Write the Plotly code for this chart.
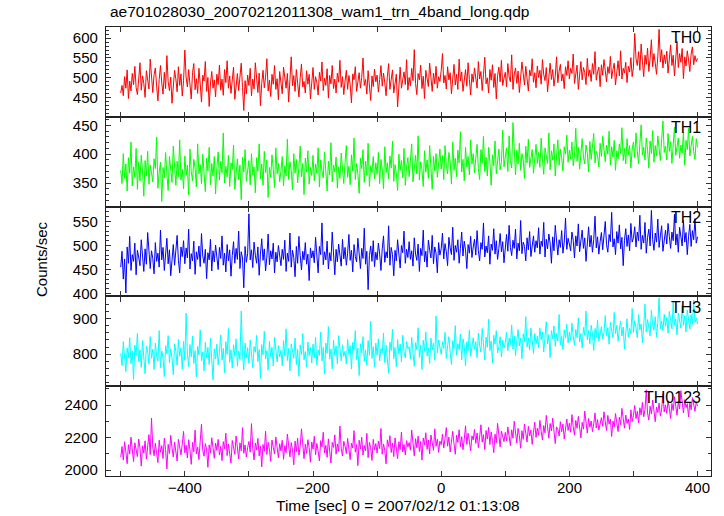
import plotly.graph_objects as go
from plotly.subplots import make_subplots

title = "ae701028030_20070212011308_wam1_trn_4band_long.qdp"
x_title = "Time [sec] 0 = 2007/02/12 01:13:08"
y_title = "Counts/sec"
bands = ["TH0", "TH1", "TH2", "TH3", "TH0123"]
colors = ["#ff0000", "#00ff00", "#0000ff", "#00ffff", "#ff00ff"]

t_start = -500
t_bin = 2

th0 = [462, 481, 455, 503, 474, 520, 448, 492, 467, 511, 483, 529, 476, 458, 497, 538, 469, 505, 486, 451, 518, 494, 472, 547, 489,
       463, 508, 525, 479, 442, 496, 531, 487, 459, 514, 473, 556, 490, 468, 502, 436, 483, 519, 497, 465, 528, 481, 510, 454, 493,
       570, 502, 477, 521, 489, 447, 513, 536, 470, 498, 461, 524, 485, 439, 507, 492, 541, 466, 501, 428, 487, 516, 474, 495, 452,
       509, 483, 532, 469, 497, 456, 521, 488, 543, 474, 505, 461, 490, 527, 446, 482, 511, 468, 499, 537, 476, 418, 493, 460, 507,
       481, 524, 455, 497, 472, 538, 489, 463, 512, 430, 486, 519, 475, 502, 548, 467, 494, 453, 509, 484, 531, 471, 498, 445, 516,
       488, 460, 527, 493, 474, 511, 439, 496, 553, 480, 506, 466, 521, 487, 452, 500, 535, 477, 491, 462, 518, 484, 509, 447, 495,
       526, 471, 503, 488, 457, 514, 492, 540, 468, 499, 481, 523, 449, 506, 485, 531, 473, 497, 462, 512, 489, 544, 476, 503, 458,
       492, 519, 471, 506, 483, 437, 510, 495, 528, 466, 489, 513, 474, 501, 550, 481, 496, 459, 518, 487, 443, 505, 478, 522, 490,
       507, 464, 496, 531, 479, 512, 488, 455, 503, 536, 471, 494, 520, 462, 486, 509, 427, 491, 527, 474, 498, 515, 483, 546, 469,
       501, 480, 524, 493, 571, 486, 458, 511, 495, 532, 473, 504, 448, 519, 490, 478, 537, 497, 466, 512, 485, 529, 474, 503, 491,
       518, 561, 487, 506, 472, 528, 495, 513, 460, 498, 534, 482, 509, 471, 547, 492, 515, 466, 503, 521, 479, 538, 496, 457, 510,
       489, 525, 503, 474, 541, 497, 516, 468, 508, 552, 485, 500, 462, 521, 494, 533, 476, 511, 447, 506, 527, 490, 544, 481, 499,
       514, 478, 536, 502, 490, 558, 471, 509, 525, 486, 517, 463, 498, 540, 511, 482, 529, 497, 467, 520, 505, 548, 489, 513, 475,
       530, 501, 519, 484, 546, 508, 493, 526, 465, 512, 537, 496, 521, 479, 504, 553, 488, 517, 534, 492, 510, 473, 528, 506, 543,
       497, 524, 511, 560, 486, 518, 532, 471, 507, 541, 495, 526, 513, 483, 549, 504, 520, 491, 536, 509, 566, 494, 515, 527, 478,
       533, 507, 546, 519, 490, 528, 511, 554, 498, 521, 537, 482, 516, 543, 505, 568, 497, 524, 512, 539, 488, 529, 515, 551, 503,
       527, 612, 548, 531, 566, 519, 585, 542, 503, 557, 534, 575, 516, 549, 596, 528, 561, 537, 509, 553, 622, 540, 571, 525, 558,
       536, 567, 512, 549, 583, 531, 557, 505, 544, 592, 526, 561, 539, 574, 498, 553, 530, 568, 545, 516, 560, 578, 533, 556, 541,
       549]

th1 = [372, 349, 401, 358, 383, 336, 394, 367, 421, 345, 378, 360, 410, 339, 387, 354, 398, 371, 327, 389, 362, 405, 348, 381, 368,
       352, 392, 375, 430, 341, 369, 386, 318, 377, 359, 403, 365, 337, 396, 372, 351, 414, 379, 346, 388, 361, 425, 355, 374, 340,
       397, 363, 381, 329, 409, 370, 354, 391, 376, 343, 418, 366, 382, 349, 400, 358, 335, 393, 371, 412, 347, 384, 362, 396, 331,
       376, 404, 355, 388, 368, 437, 350, 379, 361, 398, 344, 385, 373, 416, 339, 367, 392, 356, 381, 321, 395, 369, 408, 353, 375,
       389, 347, 401, 364, 378, 333, 394, 370, 418, 357, 383, 346, 405, 368, 390, 325, 377, 360, 399, 374, 342, 411, 366, 384, 352,
       371, 396, 345, 380, 362, 426, 356, 387, 372, 338, 401, 367, 391, 350, 378, 414, 361, 384, 330, 393, 369, 406, 348, 377, 363,
       398, 354, 383, 367, 411, 343, 390, 371, 359, 404, 375, 336, 388, 364, 420, 352, 381, 369, 395, 341, 378, 358, 402, 373, 349,
       386, 415, 360, 379, 347, 399, 371, 428, 356, 384, 366, 332, 393, 375, 408, 351, 388, 363, 419, 344, 380, 368, 396, 357, 385,
       365, 403, 349, 391, 374, 340, 413, 368, 385, 357, 397, 376, 423, 353, 382, 367, 337, 400, 372, 389, 359, 410, 346, 378, 394,
       361, 385, 418, 352, 379, 398, 366, 432, 355, 387, 373, 344, 406, 369, 390, 358, 415, 377, 339, 396, 371, 401, 360, 383, 409,
       374, 398, 356, 415, 380, 366, 403, 388, 348, 421, 372, 393, 361, 407, 385, 439, 369, 391, 354, 412, 378, 396, 364, 425, 383,
       401, 368, 390, 417, 375, 356, 408, 384, 431, 370, 395, 362, 412, 387, 346, 399, 380, 423, 366, 393, 409, 373, 386, 442, 378,
       395, 411, 370, 432, 389, 376, 455, 398, 364, 407, 383, 419, 372, 401, 390, 358, 414, 385, 426, 377, 396, 408, 367, 390, 417,
       384, 403, 377, 428, 392, 365, 411, 399, 384, 437, 373, 406, 390, 418, 362, 397, 425, 381, 409, 394, 371, 413, 400, 433, 386,
       407, 392, 421, 380, 398, 445, 388, 412, 374, 404, 427, 395, 383, 416, 402, 369, 422, 391, 411, 436, 385, 405, 398, 378, 419,
       396, 431, 408, 387, 416, 400, 440, 381, 413, 395, 424, 372, 406, 392, 418, 401, 446, 389, 410, 383, 427, 399, 415, 376, 409,
       421, 394, 437, 405, 383, 418, 451, 399, 412, 390, 428, 408, 376, 423, 401, 441, 386, 415, 397, 432, 409, 389, 426, 458, 403,
       414, 390, 436, 405, 422, 384, 419, 447, 398, 411, 428, 393, 416, 402, 439, 381, 424, 408, 445, 397, 418, 431, 405, 391, 427,
       412]

th2 = [455, 488, 430, 472, 401, 497, 463, 519, 448, 481, 467, 505, 439, 490, 476, 458, 512, 470, 446, 493, 461, 527, 478, 452, 489,
       473, 441, 506, 467, 484, 455, 532, 470, 496, 448, 479, 515, 462, 491, 437, 474, 502, 459, 486, 521, 469, 443, 497, 477, 510,
       462, 495, 474, 534, 451, 483, 468, 509, 440, 487, 471, 499, 456, 525, 478, 463, 492, 431, 485, 470, 513, 447, 489, 466, 501,
       476, 450, 496, 473, 520, 459, 484, 445, 502, 468, 491, 436, 479, 508, 463, 494, 471, 530, 452, 487, 474, 412, 498, 465, 483,
       566, 470, 491, 454, 507, 480, 463, 497, 438, 482, 514, 469, 493, 447, 476, 524, 460, 489, 472, 505, 443, 486, 466, 500, 478,
       458, 492, 471, 511, 446, 484, 467, 526, 455, 490, 475, 435, 498, 463, 519, 479, 449, 488, 470, 506, 461, 482, 427, 495, 474,
       489, 464, 517, 476, 443, 498, 481, 547, 460, 487, 470, 509, 451, 485, 468, 528, 475, 439, 492, 466, 503, 481, 457, 513, 472,
       496, 459, 484, 523, 469, 490, 445, 502, 477, 466, 515, 483, 452, 494, 473, 536, 461, 488, 408, 479, 499, 467, 510, 456, 486,
       470, 505, 482, 448, 493, 520, 465, 487, 474, 541, 459, 496, 481, 437, 490, 468, 512, 477, 453, 500, 485, 530, 463, 492, 475,
       508, 471, 489, 457, 516, 482, 469, 503, 446, 494, 479, 532, 466, 488, 455, 511, 491, 474, 521, 462, 497, 484, 443, 506, 480,
       493, 526, 472, 504, 487, 458, 517, 495, 481, 538, 469, 500, 486, 512, 463, 494, 528, 478, 509, 491, 452, 502, 484, 519, 475,
       497, 513, 480, 531, 489, 468, 506, 492, 547, 476, 499, 485, 520, 461, 503, 490, 535, 482, 510, 471, 494, 525, 487, 508, 464,
       501, 523, 488, 542, 496, 479, 511, 494, 534, 472, 505, 489, 552, 483, 507, 498, 468, 516, 491, 529, 477, 503, 520, 486, 510,
       495, 537, 482, 509, 498, 548, 476, 513, 493, 524, 505, 463, 518, 489, 542, 501, 480, 512, 496, 531, 484, 507, 557, 492, 515,
       503, 489, 528, 511, 474, 520, 499, 545, 487, 509, 532, 494, 516, 467, 506, 539, 497, 521, 486, 512, 561, 495, 518, 482, 508,
       527, 491, 515, 550, 502, 486, 523, 508, 569, 497, 514, 481, 529, 505, 543, 493, 517, 458, 511, 535, 498, 522, 489, 546, 507,
       516, 539, 497, 528, 510, 563, 492, 521, 505, 548, 484, 517, 534, 499, 573, 512, 490, 526, 507, 555, 496, 520, 541, 488, 513,
       532, 503, 546, 519, 494, 528, 510, 565, 501, 524, 486, 538, 515, 499, 552, 507, 527, 481, 519, 544, 498, 531, 512, 556, 505,
       518]

th3 = [802, 768, 835, 784, 751, 817, 790, 846, 773, 809, 729, 825, 797, 858, 779, 812, 763, 838, 791, 745, 823, 806, 772, 849, 788,
       814, 757, 831, 795, 780, 866, 762, 809, 791, 737, 824, 801, 852, 776, 815, 789, 742, 829, 807, 769, 841, 794, 818, 758, 836,
       783, 915, 801, 765, 827, 792, 851, 774, 810, 736, 822, 798, 868, 781, 806, 753, 833, 789, 819, 771, 845, 797, 727, 815, 786,
       828, 770, 807, 854, 783, 816, 748, 835, 799, 872, 777, 812, 761, 826, 794, 843, 766, 809, 785, 921, 802, 756, 831, 790, 818,
       774, 840, 796, 762, 821, 805, 853, 779, 813, 732, 827, 798, 864, 787, 810, 755, 836, 793, 819, 767, 847, 801, 778, 824, 792,
       811, 767, 838, 795, 871, 782, 816, 753, 829, 804, 788, 845, 771, 813, 738, 826, 799, 858, 784, 807, 763, 834, 796, 819, 775,
       828, 789, 847, 770, 812, 796, 862, 781, 819, 744, 831, 802, 877, 786, 814, 759, 839, 797, 823, 773, 852, 805, 781, 826, 794,
       808, 772, 841, 799, 824, 758, 833, 811, 866, 785, 817, 740, 829, 803, 849, 780, 812, 769, 838, 796, 892, 788, 821, 764, 831,
       797, 843, 781, 816, 804, 859, 776, 825, 792, 746, 834, 810, 870, 787, 819, 765, 841, 800, 828, 778, 853, 806, 789, 836, 815,
       821, 786, 847, 804, 766, 832, 813, 874, 791, 826, 757, 839, 808, 862, 795, 818, 774, 845, 812, 831, 783, 907, 803, 840, 818,
       799, 835, 816, 861, 788, 824, 849, 806, 771, 838, 815, 880, 797, 829, 812, 856, 784, 843, 822, 767, 835, 810, 868, 794, 827,
       846, 813, 835, 790, 859, 824, 806, 872, 831, 784, 848, 819, 898, 810, 837, 775, 853, 828, 866, 803, 821, 849, 792, 839, 817,
       832, 861, 809, 845, 827, 882, 814, 851, 796, 838, 869, 823, 845, 787, 857, 834, 905, 820, 846, 811, 873, 839, 802, 858, 829,
       851, 818, 873, 840, 862, 806, 848, 891, 829, 855, 790, 866, 843, 879, 822, 858, 837, 911, 826, 850, 813, 868, 845, 884, 832,
       862, 839, 887, 851, 825, 869, 846, 902, 834, 858, 817, 875, 853, 921, 840, 866, 829, 881, 857, 810, 872, 848, 895, 836, 864,
       877, 843, 861, 908, 852, 874, 828, 889, 865, 846, 917, 858, 881, 836, 869, 893, 851, 876, 815, 864, 899, 847, 872, 857, 928,
       861, 894, 873, 846, 911, 868, 885, 832, 879, 940, 862, 897, 874, 851, 923, 883, 867, 905, 848, 889, 958, 871, 893, 866, 912,
       878, 903, 859, 920, 887, 871, 946, 882, 898, 854, 915, 890, 873, 936, 881, 907, 862, 924, 893, 870, 911, 884, 951, 889, 902,
       885]

th0123 = [2078, 2145, 2061, 2174, 2112, 2039, 2156, 2098, 2203, 2127, 2052, 2168, 2119, 2083, 2191, 2136, 2024, 2149, 2104, 2180, 2067, 2133, 2218, 2095, 2321,
          2142, 2088, 2165, 2117, 2046, 2184, 2109, 2150, 2071, 2196, 2125, 2007, 2158, 2101, 2214, 2137, 2080, 2172, 2116, 2055, 2189, 2130, 2093, 2161, 2238,
          2106, 2153, 2074, 2187, 2124, 2035, 2170, 2112, 2246, 2099, 2141, 2064, 2178, 2283, 2119, 2085, 2163, 2128, 2017, 2155, 2104, 2199, 2137, 2072, 2166,
          2121, 2189, 2092, 2146, 2058, 2175, 2131, 2227, 2089, 2160, 2113, 2042, 2182, 2125, 2097, 2210, 2144, 2069, 2168, 2118, 2261, 2103, 2155, 2080, 2139,
          2176, 2110, 2286, 2134, 2062, 2167, 2123, 2195, 2087, 2148, 2019, 2157, 2115, 2239, 2096, 2171, 2128, 2053, 2185, 2140, 2099, 2204, 2132, 2075, 2162,
          2118, 2183, 2066, 2150, 2107, 2222, 2135, 2081, 2169, 2124, 2032, 2178, 2113, 2196, 2091, 2146, 2254, 2127, 2070, 2159, 2102, 2187, 2138, 2048, 2173,
          2129, 2208, 2094, 2164, 2117, 2056, 2181, 2143, 2233, 2105, 2152, 2078, 2192, 2126, 2043, 2170, 2139, 2217, 2098, 2161, 2115, 2271, 2134, 2086, 2177,
          2148, 2101, 2195, 2123, 2064, 2166, 2136, 2243, 2110, 2157, 2027, 2184, 2129, 2202, 2092, 2151, 2118, 2226, 2076, 2170, 2137, 2059, 2189, 2124, 2163,
          2105, 2179, 2132, 2256, 2097, 2161, 2120, 2038, 2186, 2145, 2212, 2108, 2167, 2083, 2198, 2139, 2070, 2175, 2126, 2234, 2111, 2158, 2093, 2181, 2143,
          2169, 2122, 2247, 2150, 2087, 2193, 2137, 2209, 2114, 2176, 2061, 2198, 2155, 2230, 2128, 2185, 2099, 2216, 2163, 2121, 2254, 2146, 2190, 2109, 2178,
          2156, 2221, 2135, 2194, 2262, 2147, 2203, 2111, 2184, 2239, 2162, 2097, 2215, 2170, 2248, 2143, 2206, 2125, 2189, 2273, 2158, 2227, 2176, 2119, 2211,
          2185, 2250, 2164, 2229, 2138, 2203, 2279, 2172, 2218, 2126, 2244, 2191, 2263, 2157, 2235, 2182, 2107, 2221, 2169, 2288, 2196, 2143, 2240, 2208, 2175,
          2232, 2180, 2265, 2207, 2151, 2248, 2196, 2301, 2219, 2166, 2257, 2213, 2134, 2242, 2189, 2284, 2227, 2172, 2269, 2210, 2246, 2158, 2233, 2295, 2201,
          2258, 2214, 2306, 2239, 2185, 2274, 2229, 2337, 2248, 2196, 2287, 2241, 2320, 2223, 2163, 2266, 2251, 2209, 2298, 2236, 2283, 2192, 2261, 2315, 2244,
          2289, 2233, 2342, 2268, 2215, 2306, 2257, 2331, 2279, 2198, 2294, 2252, 2363, 2271, 2228, 2318, 2264, 2302, 2237, 2285, 2352, 2259, 2311, 2246, 2297,
          2323, 2270, 2359, 2296, 2244, 2337, 2283, 2314, 2207, 2301, 2266, 2348, 2291, 2237, 2326, 2279, 2380, 2305, 2258, 2339, 2287, 2315, 2250, 2371, 2299,
          2336, 2398, 2317, 2362, 2291, 2384, 2340, 2417, 2328, 2372, 2495, 2351, 2308, 2393, 2345, 2431, 2366, 2298, 2389, 2354, 2413, 2332, 2376, 2471, 2358,
          2402, 2349, 2427, 2381, 2318, 2410, 2367, 2452, 2391, 2338, 2423, 2376, 2489, 2397, 2352, 2434, 2385, 2409, 2327, 2418, 2371, 2446, 2395, 2362, 2421,
          2394]

series = [th0, th1, th2, th3, th0123]
y_ranges = [[402, 628], [309, 465], [394, 581], [710, 962], [1963, 2517]]
y_dticks = [50, 50, 50, 100, 200]
y_minor = [10, 10, 10, 20, 100]
x_range = [-523, 421]
x_tickvals = [-500, -400, -300, -200, -100, 0, 100, 200, 300, 400]
x_ticktext = ["", "\u2212400", "", "\u2212200", "", "0", "", "200", "", "400"]

FONT = "Liberation Sans, Arial, Helvetica, sans-serif"

W, H = 724, 516
ML, MR, MT, MB = 106, 13, 27, 40
PW = W - ML - MR
PH = H - MT - MB

fig = make_subplots(rows=5, cols=1, shared_xaxes=True, vertical_spacing=0)

for i, (name, vals, col) in enumerate(zip(bands, series, colors)):
    r = i + 1
    times = [t_start + t_bin * k for k in range(len(vals))]
    fig.add_trace(go.Scatter(x=times, y=vals, mode="lines", name=name,
                             line=dict(color=col, width=1), showlegend=False,
                             hoverinfo="x+y"),
                  row=r, col=1)
    fig.update_yaxes(range=y_ranges[i], dtick=y_dticks[i], ticks="inside", ticklen=5,
                     tickcolor="#333", showline=True, linecolor="#222", linewidth=1.3,
                     mirror="ticks", showgrid=False, zeroline=False, ticklabelstandoff=4,
                     minor=dict(ticks="inside", dtick=y_minor[i], ticklen=3, tickcolor="#333"),
                     tickfont=dict(size=15, color="black", family=FONT),
                     row=r, col=1)
    fig.update_xaxes(range=x_range, tickvals=x_tickvals, ticktext=x_ticktext,
                     ticks="inside", ticklen=5, tickcolor="#333", showline=True,
                     linecolor="#222", linewidth=1.3, mirror="ticks", showgrid=False,
                     zeroline=False, showticklabels=False,
                     row=r, col=1)
    yref = "y domain" if r == 1 else f"y{r} domain"
    fig.add_annotation(text=name, xref="x domain", yref=yref, x=1 - 8 / PW, y=0.995,
                       xanchor="right", yanchor="top", showarrow=False,
                       font=dict(size=16, color="black", family=FONT))

# bottom-axis tick labels, anchored to the bottom x axis at the tick values
for tv, tt in zip(x_tickvals, x_ticktext):
    if tt:
        fig.add_annotation(text=tt, xref="x5", yref="y5 domain", x=tv, y=0,
                           xanchor="center", yanchor="middle", yshift=-11.5,
                           showarrow=False, font=dict(size=15, color="black", family=FONT))

# title, axis titles placed in pixel terms relative to the plot area
fig.add_annotation(text=title, xref="paper", yref="paper", x=(108 - ML) / PW, y=1,
                   xanchor="left", yanchor="middle", yshift=MT - 11.5, showarrow=False,
                   font=dict(size=15.5, color="black", family=FONT))
fig.add_annotation(text=x_title, xref="paper", yref="paper", x=(398 - ML) / PW, y=0,
                   xanchor="center", yanchor="middle", yshift=-29.5, showarrow=False,
                   font=dict(size=15.5, color="black", family=FONT))
fig.add_annotation(text=y_title, xref="paper", yref="paper",
                   x=(41 - ML) / PW, y=1 - (259 - MT) / PH,
                   textangle=-90, showarrow=False, xanchor="center", yanchor="middle",
                   font=dict(size=15, color="black", family=FONT))

fig.update_layout(
    width=W, height=H,
    margin=dict(l=ML, r=MR, t=MT, b=MB, autoexpand=False),
    paper_bgcolor="white", plot_bgcolor="white",
)

# remove the default 8px page margin so the figure fills the window exactly
fig.write_html("out.html", config={"displayModeBar": False},
               post_script="document.body.style.margin='0';document.body.style.overflow='hidden';")
